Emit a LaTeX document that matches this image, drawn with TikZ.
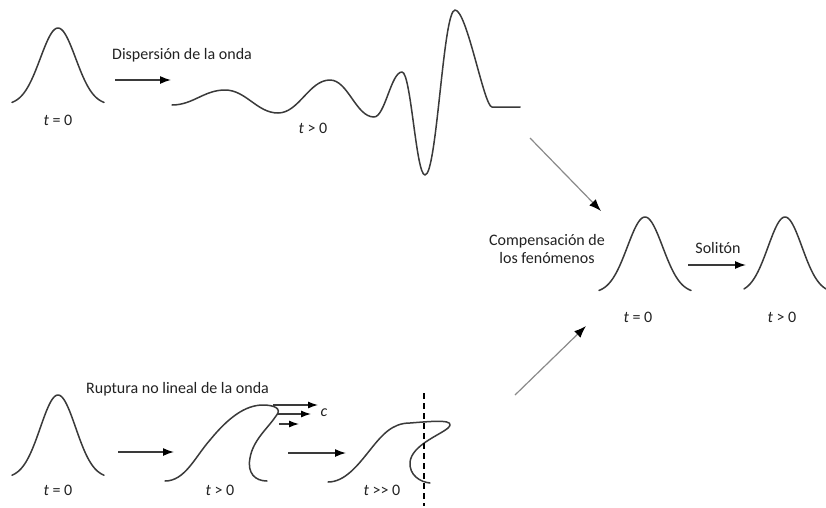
\documentclass[tikz,border=0pt]{standalone}
\usepackage{fontspec}
\setmainfont{Carlito}
\usetikzlibrary{arrows.meta}
\definecolor{wavegray}{HTML}{3A3A3A}
\definecolor{diaggray}{HTML}{8A8A8A}
\definecolor{txt}{HTML}{222222}
\newcommand\bellcurve[5]{% center x, base y, height, sigma, half width
  \draw[wave] plot[domain=-#5:#5,samples=80] ({#1+\x},{-#2+#3*exp(-(\x*\x)/(#4*#4))});}
\begin{document}
\begin{tikzpicture}[x=1pt,y=1pt,
  wave/.style={wavegray,line width=1.5pt,line cap=round,line join=round},
  harrow/.style={wavegray,line width=1.4pt,-{Latex[length=11pt,width=8pt,black]}},
  carrow/.style={wavegray,line width=1.2pt,-{Latex[length=10pt,width=7pt,black]}},
  darrow/.style={diaggray,line width=1.2pt,-{Latex[length=12pt,width=9pt,black]}},
  lbl/.style={text=txt,font=\fontsize{16}{18.5}\selectfont,inner sep=0pt},
  ]
\fill[white] (0,0) rectangle (826,-507);
\useasboundingbox (0,0) rectangle (826,-507);

% ---------- top row ----------
\bellcurve{58}{105}{77}{25}{46}
\node[lbl] (t0a) at (58,-120) {\textit{t} = 0};
\coordinate (a1s) at (115,-80);
\coordinate (a1e) at (171,-80);
\draw[harrow] (a1s) -- (a1e);
\node[lbl,anchor=west] (disp) at (112,-55) {Dispersión de la onda};

\draw[wave] (172,-105) .. controls (193,-105) and (204,-90) .. (225,-90)
  .. controls (246,-90) and (257,-113) .. (278,-113)
  .. controls (299,-113) and (309,-80) .. (330,-80)
  .. controls (348,-80) and (356,-117) .. (374,-117)
  .. controls (385,-117) and (391,-72) .. (402,-72)
  .. controls (411,-72) and (416,-175) .. (425,-175)
  .. controls (437,-175) and (443,-10) .. (455,-10)
  .. controls (467,-10) and (484,-107) .. (492,-107) -- (520,-107);
\node[lbl] (tga) at (313,-128) {\textit{t} > 0};

% ---------- middle / right ----------
\coordinate (d1s) at (530,-138);
\coordinate (d1e) at (601,-211);
\draw[darrow] (d1s) -- (d1e);

\node[lbl,align=center] (comp) at (547,-249) {Compensación de\\los fenómenos};
\bellcurve{645}{293}{76}{25}{46}
\node[lbl] (t0m) at (638,-317) {\textit{t} = 0};

\coordinate (sas) at (688,-265);
\coordinate (sae) at (746,-265);
\draw[harrow] (sas) -- (sae);
\node[lbl] (sol) at (718,-248) {Solitón};

\bellcurve{785}{293}{76}{24}{41}
\node[lbl] (tgr) at (782,-317) {\textit{t} > 0};

\coordinate (d2s) at (515,-395);
\coordinate (d2e) at (586,-326);
\draw[darrow] (d2s) -- (d2e);

% ---------- bottom row ----------
\bellcurve{58}{478}{83}{25}{46}
\node[lbl] (t0b) at (58,-490) {\textit{t} = 0};
\node[lbl,anchor=west] (rupt) at (86,-389) {Ruptura no lineal de la onda};

\coordinate (b1s) at (118,-452);
\coordinate (b1e) at (174,-452);
\draw[harrow] (b1s) -- (b1e);

\draw[wave] (165,-481) .. controls (185,-481) and (195,-457) .. (210,-440)
  .. controls (228,-418) and (245,-405) .. (263,-405)
  .. controls (273,-405) and (283,-408) .. (276,-416)
  .. controls (268,-428) and (253,-440) .. (250,-458)
  .. controls (247,-473) and (255,-481) .. (267,-481);
\node[lbl] (tgb) at (220,-490) {\textit{t} > 0};

\coordinate (c1s) at (273,-405);
\coordinate (c1e) at (318,-405);
\coordinate (c2s) at (277,-414);
\coordinate (c2e) at (311,-414);
\coordinate (c3s) at (279,-424);
\coordinate (c3e) at (299,-424);
\draw[carrow] (c1s) -- (c1e);
\draw[carrow] (c2s) -- (c2e);
\draw[carrow] (c3s) -- (c3e);
\node[lbl] (cl) at (324,-413) {\textit{c}};

\coordinate (b2s) at (288,-453);
\coordinate (b2e) at (346,-453);
\draw[harrow] (b2s) -- (b2e);

\draw[wave] (328,-482) .. controls (345,-482) and (358,-465) .. (370,-450)
  .. controls (382,-435) and (392,-423) .. (410,-423)
  .. controls (435,-421) and (457,-419) .. (448,-428)
  .. controls (440,-435) and (412,-445) .. (410,-462)
  .. controls (409,-475) and (420,-482) .. (430,-483);
\coordinate (dt) at (424,-393);
\coordinate (db) at (424,-506);
\draw[black,line width=1.2pt,dash pattern=on 6pt off 4pt] (dt) -- (db);
\node[lbl] (tggb) at (382,-490) {\textit{t} >{}> 0};
\end{tikzpicture}
\end{document}
